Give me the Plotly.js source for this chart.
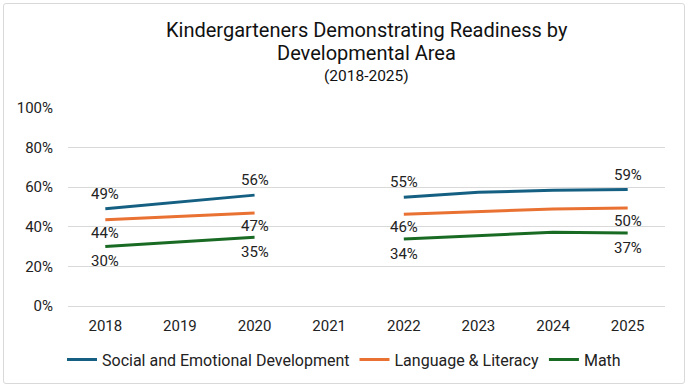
<!DOCTYPE html>
<html>
<head>
<meta charset="utf-8">
<script src="https://cdn.plot.ly/plotly-3.0.1.min.js"></script>
<style>
html,body{margin:0;padding:0;background:#fff;}
#wrap{position:absolute;left:3px;top:3px;width:680px;height:379px;border:1px solid #d9d9d9;border-radius:3px;overflow:hidden;}
#chart{position:absolute;left:-4px;top:-4px;width:688px;height:386px;}
</style>
</head>
<body>
<div id="wrap"><div id="chart"></div></div>
<script>
const years = ['2018','2019','2020','2021','2022','2023','2024','2025'];
const social = [49.1, 52.5, 56.0, null, 54.9, 57.4, 58.5, 58.8];
const language = [43.6, 45.3, 47.0, null, 46.4, 47.8, 49.0, 49.5];
const math = [30.1, 32.4, 34.7, null, 33.8, 35.7, 37.3, 36.9];
const socialLabels = ['49%','','56%','','55%','','','59%'];
const languageLabels = ['44%','','47%','','46%','','','50%'];
const mathLabels = ['30%','','35%','','34%','','','37%'];
const seriesNames = ['Social and Emotional Development','Language & Literacy','Math'];
const titleLine1 = 'Kindergarteners Demonstrating Readiness by';
const titleLine2 = 'Developmental Area';
const subtitle = '(2018-2025)';

const font = 'Roboto, "Liberation Sans", sans-serif';
const colors = ['#156082', '#E97132', '#196B24'];
function tr(name, y, color){
  return {type:'scatter', mode:'lines', name:name, x:years, y:y,
    line:{color:color, width:3}, connectgaps:false, cliponaxis:false, hoverinfo:'skip'};
}
const data = [
  tr(seriesNames[0], social, colors[0]),
  tr(seriesNames[1], language, colors[1]),
  tr(seriesNames[2], math, colors[2])
];
const annotations = [];
function addLabels(vals, labels, shift){
  vals.forEach((v, i) => {
    // category axis: annotation x given as category index
    if (labels[i]) annotations.push({x:i, y:v, xref:'x', yref:'y', text:labels[i], showarrow:false,
      yshift:shift, xanchor:'center', yanchor:'middle', font:{family:font, size:15, color:'#222'}});
  });
}
addLabels(social, socialLabels, 15);
addLabels(language, languageLabels, -13);
addLabels(math, mathLabels, -15);
// title lines (paper coords relative to plot area: top=108px, height=198px)
const pTop = 108, pH = 198;
function py(px){ return (pTop + pH - px) / pH; }
annotations.push({xref:'paper', yref:'paper', x:0.5, y:py(30), text:titleLine1, showarrow:false, xanchor:'center', yanchor:'middle', font:{family:font, size:20, color:'#111'}});
annotations.push({xref:'paper', yref:'paper', x:0.5, y:py(53.5), text:titleLine2, showarrow:false, xanchor:'center', yanchor:'middle', font:{family:font, size:20, color:'#111'}});
annotations.push({xref:'paper', yref:'paper', x:0.5, y:py(76.5), text:subtitle, showarrow:false, xanchor:'center', yanchor:'middle', font:{family:font, size:15.5, color:'#111'}});

const layout = {
  width:688, height:386,
  margin:{l:68, r:23, t:108, b:80},
  paper_bgcolor:'rgba(0,0,0,0)', plot_bgcolor:'rgba(0,0,0,0)',
  font:{family:font, size:15, color:'#222'},
  xaxis:{type:'category', range:[-0.5, 7.5], autorange:false, showgrid:false, showline:false, zeroline:false, ticks:'',
    tickfont:{size:15, color:'#222'}, fixedrange:true, automargin:false, ticklabelstandoff:9},
  yaxis:{range:[0,100], autorange:false, dtick:20, ticksuffix:'%', showgrid:true, gridcolor:'#d9d9d9', gridwidth:1,
    zeroline:true, zerolinecolor:'#d9d9d9', zerolinewidth:1, showline:false, ticks:'',
    tickfont:{size:15, color:'#222'}, fixedrange:true, automargin:false, ticklabelstandoff:14},
  showlegend:true,
  legend:{orientation:'h', x:0.5, xanchor:'center', xref:'container', y:1 - 359.5/386, yref:'container', yanchor:'middle',
    font:{size:16, color:'#222'}, itemwidth:30, tracegroupgap:0},
  annotations:annotations
};
Plotly.newPlot('chart', data, layout, {displayModeBar:false, staticPlot:true});
</script>
</body>
</html>
